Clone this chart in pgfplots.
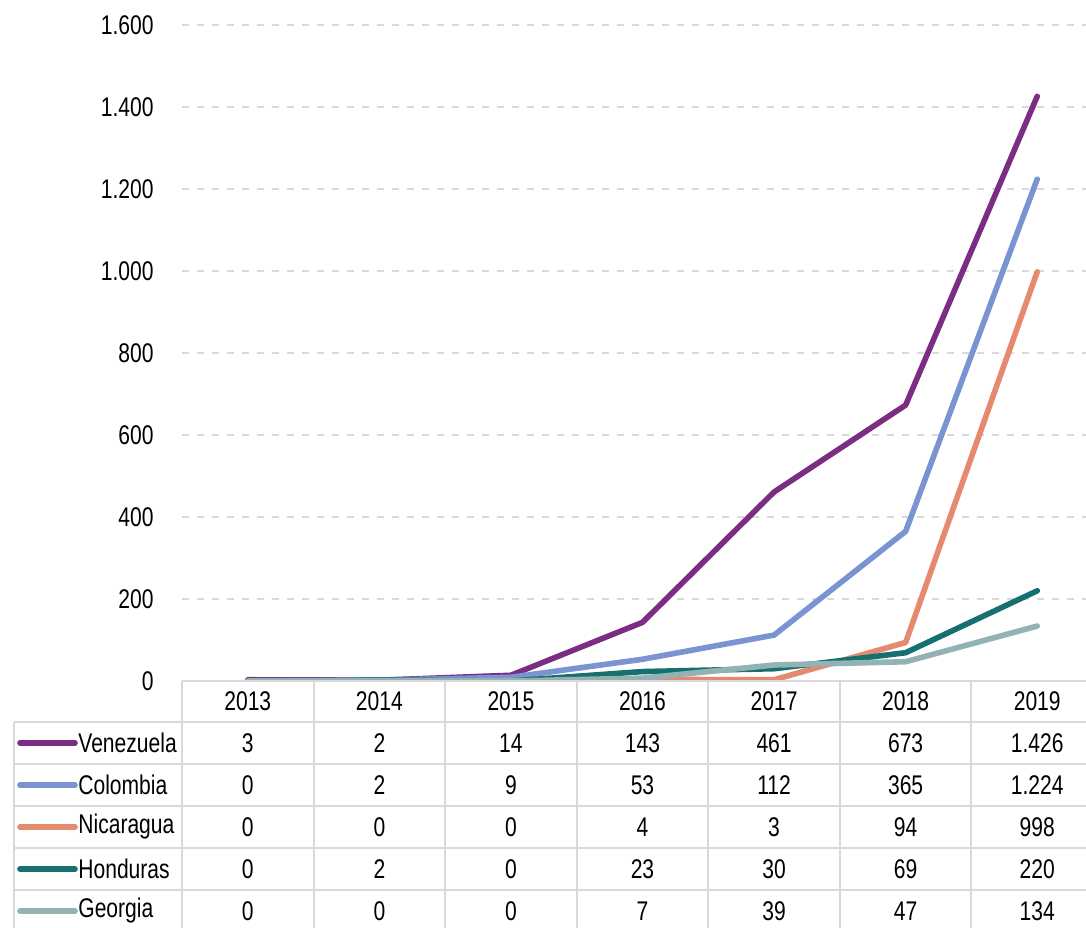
\documentclass[border=0pt]{standalone}
\usepackage{pgfplots}
\pgfplotsset{compat=1.18}
\usepackage{fontspec}
\setmainfont[FakeStretch=0.78]{Liberation Sans}
\definecolor{cVen}{RGB}{123,44,131}
\definecolor{cCol}{RGB}{121,148,208}
\definecolor{cNic}{RGB}{229,138,110}
\definecolor{cHon}{RGB}{22,112,110}
\definecolor{cGeo}{RGB}{147,178,180}
\definecolor{gridc}{RGB}{217,217,217}
\begin{document}
\begin{tikzpicture}[font=\fontsize{13.5}{15}\selectfont]
\begin{axis}[
  scale only axis, width=460.5pt, height=328pt,
  xmin=-0.5, xmax=6.5, ymin=0, ymax=1600,
  xtick=\empty, ytick={0,200,...,1600},
  axis line style={draw=none},
  ymajorgrids,
  grid style={draw=gridc, line width=0.75pt, dash pattern=on 3.5pt off 4pt},
  major tick length=0pt,
  tick style={draw=none},
  /pgf/number format/1000 sep={.},
  /pgf/number format/assume math mode=true,
  yticklabel style={anchor=east, inner sep=0pt, xshift=-14pt, font=\fontsize{13.5}{15}\selectfont},
  every axis plot/.append style={line width=2.8pt, line cap=round, line join=round, mark=none},
]
\addplot[cVen] coordinates {(0,3) (1,2) (2,14) (3,143) (4,461) (5,673) (6,1426)};
\addplot[cCol] coordinates {(0,0) (1,2) (2,9) (3,53) (4,112) (5,365) (6,1224)};
\addplot[cNic] coordinates {(0,0) (1,0) (2,0) (3,4) (4,3) (5,94) (6,998)};
\addplot[cHon] coordinates {(0,0) (1,2) (2,0) (3,23) (4,30) (5,69) (6,220)};
\addplot[cGeo] coordinates {(0,0) (1,0) (2,0) (3,7) (4,39) (5,47) (6,134)};
\end{axis}
\begin{scope}[x=0.5pt, y=0.5pt]
  % table grid
  \foreach \i in {0,...,7} \draw[gridc, line width=1pt] ({\i*131.57},0) -- ({\i*131.57},-260);
  \draw[gridc, line width=1pt] (-168,-41) -- (-168,-260);
  \draw[gridc, line width=1pt] (0,0) -- (930,0);
  \foreach \j in {0,...,4} \draw[gridc, line width=1pt] (-168,{-41-42*\j}) -- (930,{-41-42*\j});
  % header
  \foreach \yr [count=\i from 0] in {2013,2014,2015,2016,2017,2018,2019}
    \node at ({(\i+0.5)*131.57},-20.5) {\yr};
  % rows
  \foreach \name/\col/\vals [count=\r from 0] in {
      Venezuela/cVen/{3,2,14,143,461,673,1.426},
      Colombia/cCol/{0,2,9,53,112,365,1.224},
      Nicaragua/cNic/{0,0,0,4,3,94,998},
      Honduras/cHon/{0,2,0,23,30,69,220},
      Georgia/cGeo/{0,0,0,7,39,47,134}} {
    \draw[\col, line width=2.8pt, line cap=round] (-162,{-62-42*\r}) -- (-107,{-62-42*\r});
    \node[anchor=west, inner sep=0pt] at (-104,{-62-42*\r}) {\name};
    \foreach \v [count=\c from 0] in \vals
      \node at ({(\c+0.5)*131.57},{-62-42*\r}) {\v};
  }
  \pgfresetboundingbox
  \path[use as bounding box] (-182,681) rectangle (904,-246);
\end{scope}
\end{tikzpicture}
\end{document}
